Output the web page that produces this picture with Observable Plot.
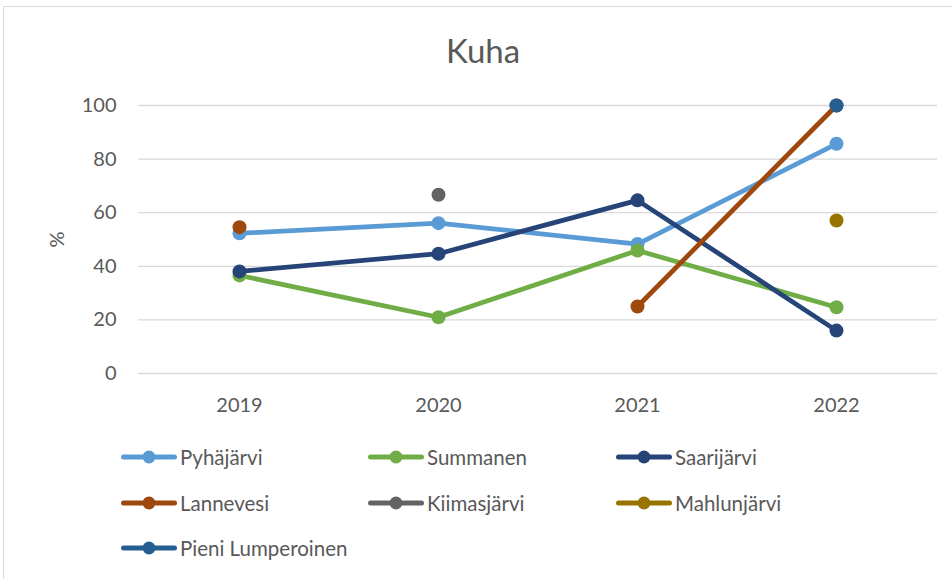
<!DOCTYPE html>
<html>
<head>
<meta charset="utf-8">
<script src="https://cdn.jsdelivr.net/npm/d3@7"></script>
<script src="https://cdn.jsdelivr.net/npm/@observablehq/plot@0.6"></script>
<style>
  html, body { margin: 0; padding: 0; background: #fff; width: 952px; height: 579px; overflow: hidden; }
  #frame { position: absolute; left: 3px; top: 6px; width: 980px; height: 620px; border: 1px solid #D9D9D9; box-sizing: border-box; }
  #title { position: absolute; left: 7px; width: 952px; top: 34px; text-align: center; font-family: Lato, sans-serif; font-size: 33px; color: #595959; line-height: 1; }
  #chart { position: absolute; left: 0; top: 80px; }
  .leg { position: absolute; display: flex; align-items: center; font-family: Lato, sans-serif; font-size: 20.5px; color: #595959; white-space: nowrap; }
  .leg svg { margin-right: 3px; }
</style>
</head>
<body>
<div id="frame"></div>
<div id="title">Kuha</div>
<div id="chart"></div>
<div id="legend"></div>
<script>
const years = ["2019", "2020", "2021", "2022"];
const seriesNames = ["Pyhäjärvi", "Summanen", "Saarijärvi", "Lannevesi", "Kiimasjärvi", "Mahlunjärvi", "Pieni Lumperoinen"];
const seriesColors = ["#5B9BD5", "#70AD47", "#264478", "#9E480E", "#636363", "#997300", "#255E91"];
const pyhajarvi = [52.3, 56.1, 48.3, 85.7];
const summanen = [36.6, 21.0, 45.9, 24.7];
const saarijarvi = [38.1, 44.7, 64.6, 16.0];
const lannevesi = [54.6, null, 25.0, 100];
const kiimasjarvi = [null, 66.7, null, null];
const mahlunjarvi = [null, null, null, 57.1];
const pieniLumperoinen = [null, null, null, 100];
const yTicks = [0, 20, 40, 60, 80, 100];

const seriesValues = [pyhajarvi, summanen, saarijarvi, lannevesi, kiimasjarvi, mahlunjarvi, pieniLumperoinen];
const rows = seriesNames.flatMap((name, i) =>
  years.map((year, j) => ({series: name, year, value: seriesValues[i][j]})));

const seriesMarks = seriesNames.flatMap(name => {
  const d = rows.filter(r => r.series === name);
  return [
    Plot.line(d, {x: "year", y: "value", stroke: "series", strokeWidth: 4.75, strokeLinejoin: "round", strokeLinecap: "round"}),
    Plot.dot(d.filter(r => r.value != null), {x: "year", y: "value", fill: "series", r: 7, stroke: "none"})
  ];
});

const chart = Plot.plot({
  width: 952,
  height: 338,
  marginTop: 25,
  marginBottom: 45,
  marginLeft: 138,
  marginRight: 15,
  style: {fontFamily: "Lato, sans-serif", fontSize: "20px", color: "#595959", background: "transparent"},
  x: {type: "point", domain: years, padding: 0.5},
  y: {domain: [0, 100], ticks: yTicks},
  color: {domain: seriesNames, range: seriesColors},
  marks: [
    Plot.gridY(yTicks, {stroke: "#D9D9D9", strokeOpacity: 1, strokeWidth: 1.3}),
    Plot.axisX({tickSize: 0, tickPadding: 24, label: null, fill: "#595959"}),
    Plot.axisY(yTicks, {tickSize: 0, tickPadding: 22, label: "%", labelAnchor: "center", labelOffset: 89, fill: "#595959", labelArrow: "none"}),
    ...seriesMarks
  ]
});
document.getElementById("chart").appendChild(chart);

// legend
const colX = [121, 368, 616];
const rowY = [457, 503, 548];
const legend = document.getElementById("legend");
seriesNames.forEach((name, i) => {
  const col = i % 3, row = Math.floor(i / 3);
  const item = document.createElement("div");
  item.className = "leg";
  item.style.left = colX[col] + "px";
  item.style.top = (rowY[row] - 14) + "px";
  item.style.height = "28px";
  const c = seriesColors[i];
  item.innerHTML = `<svg width="56" height="16"><line x1="2.5" x2="53.5" y1="8" y2="8" stroke="${c}" stroke-width="5" stroke-linecap="round"/><circle cx="28" cy="8" r="6.5" fill="${c}"/></svg><span>${name}</span>`;
  legend.appendChild(item);
});
</script>
</body>
</html>
